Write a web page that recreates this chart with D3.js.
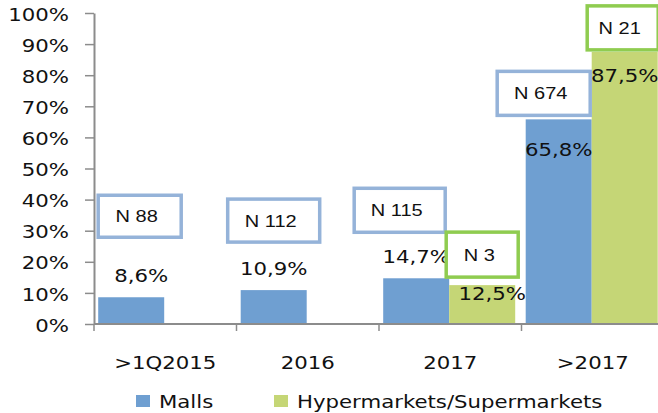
<!DOCTYPE html>
<html>
<head>
<meta charset="utf-8">
<script src="https://cdn.jsdelivr.net/npm/d3@7"></script>
<style>
  body { margin: 0; background: #fff; }
  svg { display: block; }
</style>
</head>
<body>
<div id="chart"></div>
<script>
// Chart data
const categories = [">1Q2015", "2016", "2017", ">2017"];
const seriesNames = ["Malls", "Hypermarkets/Supermarkets"];
const mallsValues = [0.086, 0.109, 0.147, 0.658];
const hyperValues = [null, null, 0.125, 0.875];
const mallsN = [88, 112, 115, 674];
const hyperN = [null, null, 3, 21];
const yTicks = [0, 0.1, 0.2, 0.3, 0.4, 0.5, 0.6, 0.7, 0.8, 0.9, 1];

// Label placement (px offsets from bar centre / bar top), hand tuned like the original
const pctOffsets = [
  [[10, -15], [0, -15], [0, -15], [0, 37]],
  [null, null, [10, 15], [0, 30]]
];
// [dx, bottom dy, width, height]
const boxLayout = [
  [[8.5, -60, 83, 42], [0, -48, 92, 43], [-16.5, -46, 91, 44], [-15, -4, 93, 44]],
  [null, null, [0, -8, 72, 45], [-2, -2, 71, 44]]
];

const colors = {
  bars: ["#6f9fd1", "#c5d676"],
  boxes: ["#95b3d9", "#8fcc50"],
  axis: "#8c8c8c"
};

const W = 658, H = 413;
const SX = 1.25; // the original's text is stretched sideways
const numFont = "'DejaVu Sans', Verdana, sans-serif";
const nFont = "'Liberation Sans', Arial, sans-serif";

const locale = d3.formatLocale({ decimal: ",", thousands: ".", grouping: [3], currency: ["", "€"] });
const pct = locale.format(".1%");

const svg = d3.select("#chart").append("svg")
  .attr("width", W).attr("height", H);
svg.append("rect").attr("width", W).attr("height", H).attr("fill", "#fff");

const x0 = d3.scaleBand().domain(categories).range([94, 664]).padding(0);
const x1 = d3.scaleBand().domain(seriesNames).range([0, x0.bandwidth()])
  .paddingInner(0).paddingOuter(0.0795).align(0.4);
const y = d3.scaleLinear().domain([0, 1]).range([324, 13]);

// Bars
const series = [mallsValues, hyperValues];
series.forEach((vals, si) => {
  svg.append("g").selectAll("rect")
    .data(categories.map((c, i) => ({ c, v: vals[i] })).filter(d => d.v != null))
    .join("rect")
    .attr("x", d => x0(d.c) + x1(seriesNames[si]))
    .attr("y", d => y(d.v))
    .attr("width", x1.bandwidth())
    .attr("height", d => y(0) - y(d.v))
    .attr("fill", colors.bars[si]);
});

// Y axis
const yAxis = svg.append("g")
  .attr("transform", `translate(${x0.range()[0]},0)`)
  .call(d3.axisLeft(y).tickValues(yTicks).tickFormat(d3.format(".0%"))
    .tickSizeInner(9).tickSizeOuter(0).tickPadding(16));
yAxis.select(".domain").attr("stroke", colors.axis).attr("stroke-width", 2);
yAxis.selectAll(".tick line").attr("stroke", colors.axis).attr("stroke-width", 1.5);
yAxis.selectAll(".tick text")
  .attr("x", -25 / SX)
  .attr("dy", "0.42em")
  .attr("transform", `scale(${SX},1)`)
  .style("font-family", numFont).style("font-size", "17px").attr("fill", "#111");

// X axis
const xAxis = svg.append("g").attr("transform", `translate(0,${y(0)})`);
xAxis.append("line")
  .attr("x1", x0.range()[0]).attr("x2", x0.range()[1])
  .attr("stroke", colors.axis).attr("stroke-width", 2);
xAxis.selectAll("line.tick")
  .data(categories)
  .join("line").attr("class", "tick")
  .attr("x1", d => x0(d)).attr("x2", d => x0(d))
  .attr("y1", 0).attr("y2", 7)
  .attr("stroke", colors.axis).attr("stroke-width", 1.5);
xAxis.selectAll("text")
  .data(categories)
  .join("text")
  .attr("transform", d => `translate(${x0(d) + x0.bandwidth() / 2},45) scale(${SX},1)`)
  .attr("text-anchor", "middle")
  .style("font-family", numFont).style("font-size", "17px").attr("fill", "#111")
  .text(d => d);

// Percentage labels
series.forEach((vals, si) => {
  vals.forEach((v, i) => {
    if (v == null) return;
    const [dx, dy] = pctOffsets[si][i];
    const cx = x0(categories[i]) + x1(seriesNames[si]) + x1.bandwidth() / 2;
    svg.append("text")
      .attr("transform", `translate(${cx + dx},${y(v) + dy}) scale(${SX},1)`)
      .attr("text-anchor", "middle")
      .style("font-family", numFont).style("font-size", "17px").attr("fill", "#111")
      .text(pct(v));
  });
});

// N boxes
[mallsN, hyperN].forEach((ns, si) => {
  ns.forEach((n, i) => {
    if (n == null) return;
    const [dx, dy, bw, bh] = boxLayout[si][i];
    const v = series[si][i];
    const cx = x0(categories[i]) + x1(seriesNames[si]) + x1.bandwidth() / 2 + dx;
    const bottom = y(v) + dy;
    const g = svg.append("g");
    g.append("rect")
      .attr("x", cx - bw / 2).attr("y", bottom - bh)
      .attr("width", bw).attr("height", bh)
      .attr("fill", "#fff")
      .attr("stroke", colors.boxes[si]).attr("stroke-width", 3.5);
    g.append("text")
      .attr("transform", `translate(${cx - 3},${bottom - bh / 2 + 6}) scale(${SX},1)`)
      .attr("text-anchor", "middle")
      .style("font-family", nFont).style("font-size", "16px").attr("fill", "#111")
      .text("N " + n);
  });
});

// Legend
const legend = svg.append("g");
const legendX = [136, 274];
seriesNames.forEach((name, si) => {
  legend.append("rect")
    .attr("x", legendX[si]).attr("y", 395)
    .attr("width", 14).attr("height", 12)
    .attr("fill", colors.bars[si]);
  legend.append("text")
    .attr("transform", `translate(${legendX[si] + 23},408) scale(${SX},1)`)
    .style("font-family", numFont).style("font-size", "17px").attr("fill", "#111")
    .text(name);
});
</script>
</body>
</html>
